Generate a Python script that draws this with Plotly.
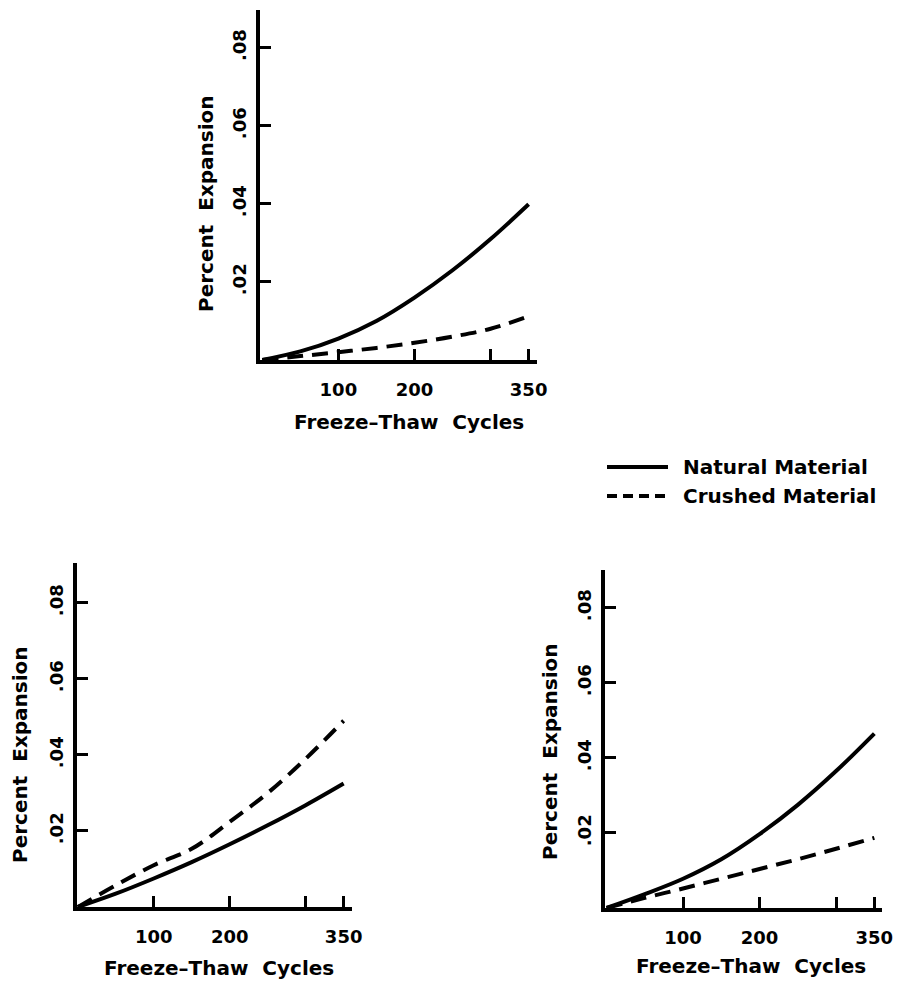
import plotly.graph_objects as go

cycles = [0, 50, 100, 150, 200, 250, 300, 350]

# Top panel
top_natural = [0.0, 0.0022, 0.0055, 0.0100, 0.0160, 0.0230, 0.0310, 0.0399]
top_crushed = [0.0, 0.0010, 0.0020, 0.0031, 0.0044, 0.0060, 0.0080, 0.0112]

# Bottom-left panel
bl_natural = [0.0, 0.0035, 0.0075, 0.0118, 0.0165, 0.0215, 0.0268, 0.0325]
bl_crushed = [0.0, 0.0057, 0.0110, 0.0153, 0.0224, 0.0300, 0.0390, 0.0490]

# Bottom-right panel
br_natural = [0.0, 0.0037, 0.0078, 0.0130, 0.0197, 0.0275, 0.0365, 0.0465]
br_crushed = [0.0, 0.0027, 0.0052, 0.0078, 0.0104, 0.0130, 0.0158, 0.0187]

x_tickvals = [100, 200, 300, 350]
x_ticktext = ["100", "200", "", "350"]
y_tickvals = [0.02, 0.04, 0.06, 0.08]
y_ticktext = [".02", ".04", ".06", ".08"]

series_names = ["Natural Material", "Crushed Material"]
x_title = "Freeze\u2013Thaw  Cycles"
y_title = "Percent  Expansion"

FONT = "DejaVu Sans"
W, H = 898, 981


def px(xr):
    return xr / W


def py(yr):
    return 1 - yr / H


fig = go.Figure()

# (natural, crushed, x id, y id, x domain px, y domain px, x range, y range,
#  x-title centre px, y-title centre px)
panels = [
    (top_natural, top_crushed, "x", "y", (260, 537), (10, 360), [-3, 361], [0, 0.0897],
     (409, 422), (206, 204)),
    (bl_natural, bl_crushed, "x2", "y2", (77, 352), (563, 907), [-1, 361], [0, 0.0905],
     (219, 968), (20, 755)),
    (br_natural, br_crushed, "x3", "y3", (605, 882), (570, 908), [-2, 360], [0, 0.0901],
     (751, 966), (550, 752)),
]

title_font = dict(family=FONT, size=20, color="black", weight="bold")
tick_font = dict(family=FONT, size=18, color="black", weight="bold")

layout_axes = {}
annotations = []
for i, (nat, cru, xa, ya, xd, yd, xr, yr, xt, yt) in enumerate(panels):
    fig.add_trace(go.Scatter(
        x=cycles, y=nat, mode="lines", xaxis=xa, yaxis=ya,
        line=dict(color="black", width=4, shape="spline"),
        name=series_names[0], showlegend=False,
    ))
    fig.add_trace(go.Scatter(
        x=cycles, y=cru, mode="lines", xaxis=xa, yaxis=ya,
        line=dict(color="black", width=4, shape="spline", dash="16px,9px"),
        name=series_names[1], showlegend=False,
    ))
    xkey = "xaxis" if xa == "x" else "xaxis" + xa[1:]
    ykey = "yaxis" if ya == "y" else "yaxis" + ya[1:]
    layout_axes[xkey] = dict(
        domain=[px(xd[0]), px(xd[1])], anchor=ya, range=xr, automargin=False,
        showgrid=False, zeroline=False, showline=True, linecolor="black", linewidth=3.5,
        ticks="inside", ticklen=11, tickwidth=2.5, tickcolor="black",
        tickvals=x_tickvals, ticktext=x_ticktext, ticklabelstandoff=11,
        tickfont=tick_font, fixedrange=True,
    )
    layout_axes[ykey] = dict(
        domain=[py(yd[1]), py(yd[0])], anchor=xa, range=yr, automargin=False,
        showgrid=False, zeroline=False, showline=True, linecolor="black", linewidth=3.5,
        ticks="inside", ticklen=11, tickwidth=2.5, tickcolor="black",
        tickvals=y_tickvals, ticktext=y_ticktext, tickangle=-90, ticklabelstandoff=3,
        tickfont=tick_font, fixedrange=True,
    )
    # axis titles
    annotations.append(dict(
        xref="paper", yref="paper", x=px(xt[0]), y=py(xt[1]),
        xanchor="center", yanchor="middle", showarrow=False,
        text=x_title, font=title_font,
    ))
    annotations.append(dict(
        xref="paper", yref="paper", x=px(yt[0]), y=py(yt[1]),
        xanchor="center", yanchor="middle", showarrow=False, textangle=-90,
        text=y_title, font=title_font,
    ))

# Legend key drawn as lines + labels
legend_rows = [(467, "solid"), (496, "10px,6px")]
shapes = []
for (yr_, dash), name in zip(legend_rows, series_names):
    shapes.append(dict(
        type="line", xref="paper", yref="paper",
        x0=px(607), x1=px(668), y0=py(yr_), y1=py(yr_),
        line=dict(color="black", width=4, dash=dash),
    ))
    annotations.append(dict(
        xref="paper", yref="paper", x=px(681), y=py(yr_),
        xanchor="left", yanchor="middle", showarrow=False,
        text=name, font=dict(family=FONT, size=20, color="black", weight="bold"),
    ))

fig.update_layout(
    width=W, height=H,
    margin=dict(l=0, r=0, t=0, b=0, autoexpand=False),
    paper_bgcolor="white", plot_bgcolor="white",
    showlegend=False,
    shapes=shapes, annotations=annotations,
    **layout_axes,
)

fig.write_html(
    "out.html",
    config={"displayModeBar": False},
    post_script="document.body.style.margin='0px';",
)
